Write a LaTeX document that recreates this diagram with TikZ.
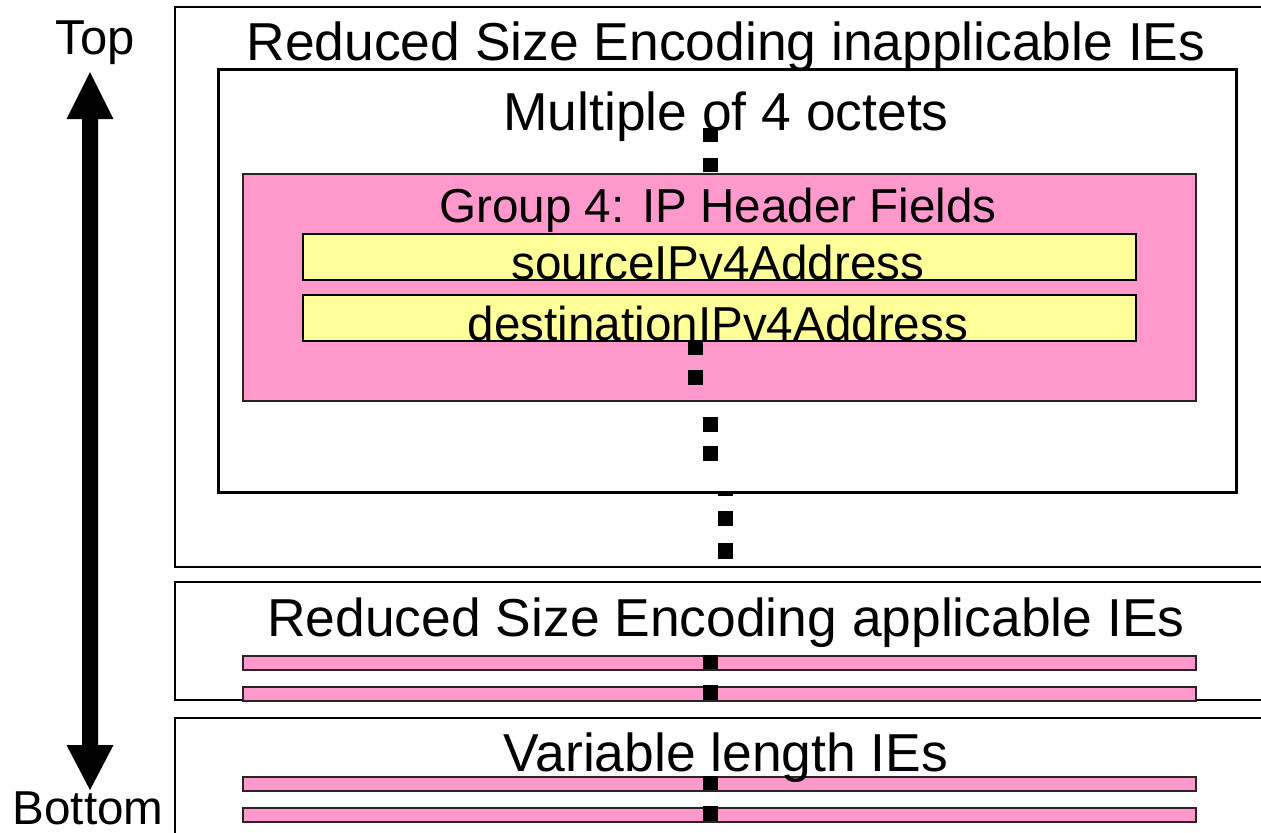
\documentclass[tikz,border=0pt]{standalone}
\usepackage{fontspec}
\setmainfont{Liberation Sans}
\usetikzlibrary{calc}
\definecolor{iepink}{HTML}{FF99CC}
\definecolor{ieyellow}{HTML}{FFFF99}
\tikzset{
  lbl/.style={inner sep=0pt, anchor=base, font=\fontsize{23.8}{28}\selectfont},
  biglbl/.style={lbl, font=\fontsize{26.7}{31}\selectfont},
  frame/.style={draw=black, line width=1.3pt},
  group/.style={draw=black!85, line width=1pt, fill=iepink},
  field/.style={draw=black, line width=1pt, fill=ieyellow},
  dot/.style={fill=black},
}
\begin{document}
\begin{tikzpicture}[x=0.5pt, y=-0.5pt]
\useasboundingbox (0,0) rectangle (1261,832);

% open-ended section frames (they run off the right edge)
\draw[frame, fill=white] (1261,7) -- (175,7) -- (175,567) -- (1261,567);
\draw[frame] (1261,582) -- (175,582) -- (175,700) -- (1261,700);
\draw[frame] (1261,718) -- (175,718) -- (175,840);

% dotted continuation below the inner frame
\fill[dot] (718,491) rectangle (733,496);
\fill[dot] (718,511) rectangle (733,526);
\fill[dot] (718,543) rectangle (733,559);

% inner frame, group and its fields
\node[frame, fill=white, anchor=north west, minimum width=1018*0.5pt, minimum height=423*0.5pt, inner sep=0pt] (inner) at (217,68) {};
\node[group, anchor=north west, minimum width=953*0.5pt, minimum height=227*0.5pt, inner sep=0pt] (grp) at (242,173) {};
\node[field, anchor=north west, minimum width=833*0.5pt, minimum height=46*0.5pt, inner sep=0pt] (src) at (302,233) {};
\node[field, anchor=north west, minimum width=833*0.5pt, minimum height=46*0.5pt, inner sep=0pt] (dst) at (302,294) {};

% bars inside the lower sections
\node[group, anchor=north west, minimum width=953*0.5pt, minimum height=14*0.5pt, inner sep=0pt] (a1) at (242,655) {};
\node[group, anchor=north west, minimum width=953*0.5pt, minimum height=14*0.5pt, inner sep=0pt] (a2) at (242,686) {};
\node[group, anchor=north west, minimum width=953*0.5pt, minimum height=14*0.5pt, inner sep=0pt] (v1) at (242,776) {};
\node[group, anchor=north west, minimum width=953*0.5pt, minimum height=14*0.5pt, inner sep=0pt] (v2) at (242,807) {};

% labels
\node[biglbl] (t1) at (726,60.5) {Reduced Size Encoding inapplicable IEs};
\node[biglbl] (t2) at (726,130.5) {Multiple of 4 octets};
\node[lbl] (t3) at (718,222) {Group 4: IP Header Fields};
\node[lbl] (t4) at (718,279) {sourceIPv4Address};
\node[lbl] (t5) at (718,340) {destinationIPv4Address};
\node[biglbl] (t6) at (726,636) {Reduced Size Encoding applicable IEs};
\node[biglbl] (t7) at (726,771) {Variable length IEs};
\node[lbl, font=\fontsize{24.5}{29}\selectfont] (top) at (95,54) {Top};
\node[lbl] (bot) at (88,824) {Bottom};

% dotted continuation marks
\fill[dot] (703,128) rectangle (718,142);
\fill[dot] (703,158) rectangle (718,172);
\fill[dot] (688,340) rectangle (703,355);
\fill[dot] (688,370) rectangle (703,385);
\fill[dot] (703,417) rectangle (718,432);
\fill[dot] (703,446) rectangle (718,461);
\fill[dot] (703,655) rectangle (718,669);
\fill[dot] (703,685) rectangle (718,700);
\fill[dot] (703,776) rectangle (718,790);
\fill[dot] (703,806) rectangle (718,821);

% double-headed Top/Bottom arrow
\coordinate (up) at (90,72);
\coordinate (down) at (90,790);
\fill[black] (up) -- ++(23.5,47) -- ++(-15.5,0) -- ($(down)+(8,-45)$) -- ++(15.5,0)
  -- (down) -- ++(-23.5,-45) -- ++(15.5,0) -- ($(up)+(-8,47)$) -- ++(-15.5,0) -- cycle;
\end{tikzpicture}
\end{document}
